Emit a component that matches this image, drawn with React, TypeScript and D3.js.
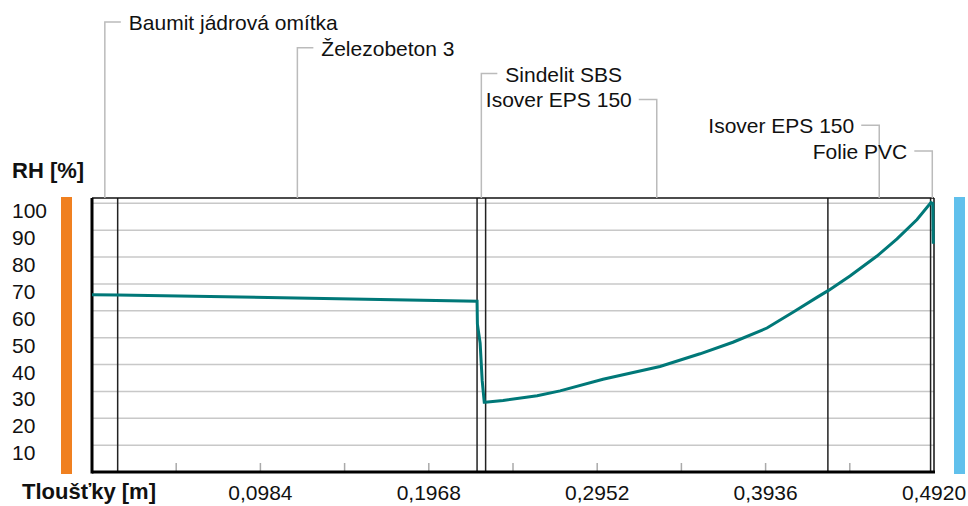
import React from 'react'
import * as d3 from 'd3'

// layers of the wall, inside -> outside
const layerNames = ['Baumit jádrová omítka', 'Železobeton 3', 'Sindelit SBS', 'Isover EPS 150', 'Isover EPS 150', 'Folie PVC']
const layerThickness = [0.015, 0.21, 0.005, 0.2, 0.06, 0.002]

// relative humidity profile through the wall
const rhDepth = [0, 0.015, 0.225, 0.2252, 0.2268, 0.228, 0.2292, 0.2297, 0.2402, 0.2601, 0.2735, 0.2986, 0.3319, 0.3553, 0.3745, 0.3944, 0.4096, 0.4236, 0.4306, 0.4429, 0.4587, 0.4704, 0.4821, 0.4902, 0.4913, 0.4916]
const rhValue = [66.0, 65.9, 63.6, 55.0, 48.0, 34.0, 26.0, 26.0, 26.6, 28.4, 30.2, 34.5, 39.3, 44.0, 48.3, 53.6, 59.5, 65.0, 67.7, 73.0, 80.4, 86.8, 94.0, 100.3, 100.0, 85.0]

const yTicks = [10, 20, 30, 40, 50, 60, 70, 80, 90, 100]
const xTicks = [0.0984, 0.1968, 0.2952, 0.3936, 0.492]
const xMinorTicks = [0.0492, 0.0984, 0.1476, 0.1968, 0.246, 0.2952, 0.3444, 0.3936, 0.4428]

const width = 968
const height = 506
const font = 'Liberation Sans, Arial, sans-serif'

export default function App() {
  const total = d3.sum(layerThickness)
  const x = d3.scaleLinear().domain([0, total]).range([92, 934])
  const y = d3.scaleLinear().domain([0, 102]).range([472, 198])

  const bounds = d3.cumsum(layerThickness)
  const starts = [0, ...Array.from(bounds).slice(0, -1)]
  const mids = layerThickness.map((t, i) => starts[i] + t / 2)
  const centerX = (x.range()[0] + x.range()[1]) / 2

  const line = d3.line<number>()
    .x((d, i) => x(rhDepth[i]))
    .y(d => y(d))

  const fmt = (v: number) => v.toFixed(4).replace('.', ',')
  const top = y(102)
  const bottom = y(0)

  return (
    <svg width={width} height={height} style={{ position: 'absolute', left: 0, top: 0, background: '#fff' }}
      fontFamily={font}>
      {/* side bars */}
      <rect x={61} y={top - 1} width={11} height={bottom - top + 3} fill='#f08020' />
      <rect x={954} y={top - 1} width={11} height={bottom - top + 3} fill='#60c0ec' />

      {/* gridlines */}
      {yTicks.map(t => (
        <line key={t} x1={x(0)} x2={x(total)} y1={y(t)} y2={y(t)} stroke='#c8c8c8' strokeWidth={1.5} />
      ))}

      {/* layer boundaries */}
      {Array.from(bounds).slice(0, -1).map((b, i) => (
        <line key={i} x1={x(b)} x2={x(b)} y1={top} y2={bottom} stroke='#222' strokeWidth={1.5} />
      ))}

      {/* minor ticks */}
      {xMinorTicks.map(t => (
        <line key={t} x1={x(t)} x2={x(t)} y1={bottom} y2={bottom - 9} stroke='#aaa' strokeWidth={1.5} />
      ))}

      {/* frame */}
      <line x1={x(0)} x2={x(total)} y1={top} y2={top} stroke='#111' strokeWidth={1.5} />
      <line x1={x(total)} x2={x(total)} y1={top} y2={bottom} stroke='#111' strokeWidth={1.5} />
      <line x1={x(0)} x2={x(0)} y1={top} y2={bottom + 1.5} stroke='#000' strokeWidth={3} />
      <line x1={x(0)} x2={x(total) + 1} y1={bottom} y2={bottom} stroke='#000' strokeWidth={3} />

      {/* humidity curve */}
      <path d={line(rhValue) || ''} fill='none' stroke='#007878' strokeWidth={3} />

      {/* y labels */}
      {yTicks.map(t => (
        <text key={t} x={12} y={y(t) + 15} fontSize={21} fill='#111'>{t}</text>
      ))}
      <text x={12} y={178} fontSize={22} fontWeight='bold' fill='#111'>RH [%]</text>

      {/* x labels */}
      {xTicks.map(t => (
        <text key={t} x={x(t)} y={500} fontSize={21} textAnchor='middle' fill='#111'>{fmt(t)}</text>
      ))}
      <text x={22} y={499} fontSize={22} fontWeight='bold' fill='#111'>Tloušťky [m]</text>

      {/* layer name leaders */}
      {layerNames.map((name, i) => {
        const lx = x(mids[i])
        const ly = 22 + i * 25.8
        const right = lx < centerX
        const hx = right ? lx + 16 : lx - 18
        return (
          <g key={i}>
            <polyline points={`${lx},${top} ${lx},${ly} ${hx},${ly}`} fill='none' stroke='#bbb' strokeWidth={1.5} />
            <text x={right ? hx + 8 : hx - 7} y={ly + 8} fontSize={21} fill='#111'
              textAnchor={right ? 'start' : 'end'}>{name}</text>
          </g>
        )
      })}
    </svg>
  )
}
